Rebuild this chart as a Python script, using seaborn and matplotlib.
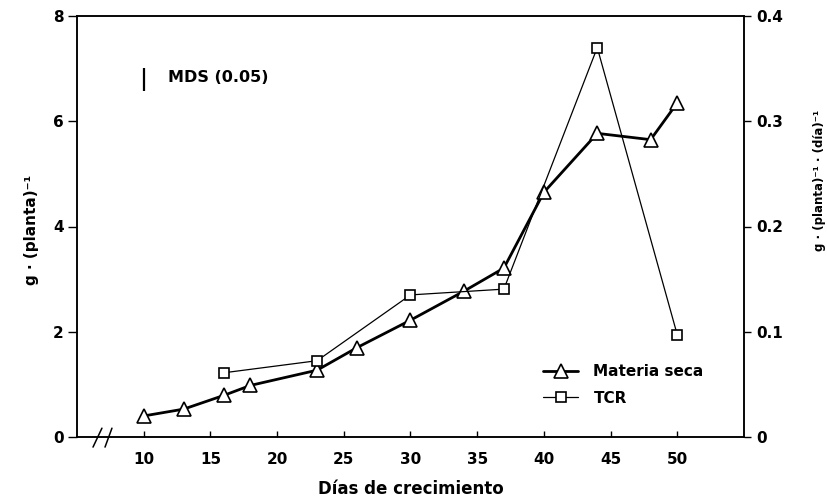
import matplotlib
matplotlib.use("Agg")
import matplotlib.pyplot as plt
import matplotlib.transforms as mtransforms
from matplotlib.lines import Line2D
import seaborn as sns

# ---- data ----
dias_ms = [10, 13, 16, 18, 23, 26, 30, 34, 37, 40, 44, 48, 50]
materia_seca = [0.40, 0.53, 0.79, 0.98, 1.27, 1.70, 2.22, 2.77, 3.21, 4.65, 5.77, 5.65, 6.35]

dias_tcr = [16, 23, 30, 37, 44, 50]
tcr = [0.061, 0.0725, 0.135, 0.1405, 0.370, 0.097]

x_ticks = [10, 15, 20, 25, 30, 35, 40, 45, 50]
y_left_ticks = [0, 2, 4, 6, 8]
y_left_labels = ["0", "2", "4", "6", "8"]
y_right_ticks = [0, 0.1, 0.2, 0.3, 0.4]
y_right_labels = ["0", "0.1", "0.2", "0.3", "0.4"]

mds_x = 10
mds_low, mds_high = 6.58, 7.02
mds_label = "MDS (0.05)"

series_labels = ["Materia seca", "TCR"]
xlabel = "Días de crecimiento"
ylabel_left = "g · (planta)⁻¹"
ylabel_right = "g · (planta)⁻¹ · (día)⁻¹"

# ---- style ----
sns.set_theme(style="ticks")
plt.rcParams["font.family"] = ["DejaVu Sans"]
plt.rcParams["font.weight"] = "bold"
plt.rcParams["axes.labelweight"] = "bold"
plt.rcParams["axes.labelcolor"] = "black"
plt.rcParams["axes.linewidth"] = 1.1
plt.rcParams["axes.edgecolor"] = "black"
plt.rcParams["text.color"] = "black"
plt.rcParams["xtick.color"] = "black"
plt.rcParams["ytick.color"] = "black"
plt.rcParams["xtick.labelcolor"] = "black"
plt.rcParams["ytick.labelcolor"] = "black"

fig = plt.figure(figsize=(8.28, 5.0), dpi=100)
ax = fig.add_axes([77 / 828, 1 - 437 / 500, (744 - 77) / 828, (437 - 16) / 500])
ax2 = ax.twinx()

sns.lineplot(x=dias_ms, y=materia_seca, ax=ax, color="black", linewidth=2.0,
             marker="^", markersize=9.5, markerfacecolor="white",
             markeredgecolor="black", markeredgewidth=1.2, zorder=3)
sns.lineplot(x=dias_tcr, y=tcr, ax=ax2, color="black", linewidth=0.9,
             marker="s", markersize=7.5, markerfacecolor="white",
             markeredgecolor="black", markeredgewidth=1.2, zorder=3)

ax.set_xlim(5, 55)
ax.set_ylim(0, 8)
ax2.set_ylim(0, 0.4)

ax.set_xticks(x_ticks)
ax.set_xticklabels([str(v) for v in x_ticks], fontsize=11, fontweight="bold")
ax.set_yticks(y_left_ticks)
ax.set_yticklabels(y_left_labels, fontsize=11, fontweight="bold")
ax2.set_yticks(y_right_ticks)
ax2.set_yticklabels(y_right_labels, fontsize=11, fontweight="bold")

ax.tick_params(axis="x", direction="in", length=4.5, width=1.0, pad=11, bottom=True, top=False)
ax.tick_params(axis="y", direction="out", length=6.5, width=1.0, pad=3, left=True, right=False)
ax2.tick_params(axis="y", direction="out", length=5, width=1.0, pad=4, right=True)

for a in (ax, ax2):
    for s in a.spines.values():
        s.set_visible(True)
        s.set_color("black")
        s.set_linewidth(1.1)

ax.set_xlabel(xlabel, fontsize=12, fontweight="bold", labelpad=9, color="black")
ax.set_ylabel(ylabel_left, fontsize=11, fontweight="bold", va="center", color="black")
ax.yaxis.set_label_coords(-0.0675, 0.492)
ax2.set_ylabel(ylabel_right, fontsize=8.5, fontweight="bold", va="center",
               rotation=90, color="black")
ax2.yaxis.set_label_coords(1.1125, 0.61)

# axis break marks
trans = mtransforms.blended_transform_factory(ax.transData, ax.transAxes)
for x0, x1 in [(6.2, 6.87), (7.1, 7.62)]:
    ax.plot([x0, x1], [-0.024, 0.021], color="black", linewidth=1.1,
            transform=trans, clip_on=False)

# MDS bar
ax.vlines(mds_x, mds_low, mds_high, color="black", linewidth=1.6)
ax.text(11.8, (mds_low + mds_high) / 2 + 0.03, mds_label, fontsize=11.5,
        fontweight="bold", va="center", ha="left")

# legend
h1 = Line2D([], [], color="black", linewidth=2.0, marker="^", markersize=9.5,
            markerfacecolor="white", markeredgecolor="black", markeredgewidth=1.2)
h2 = Line2D([], [], color="black", linewidth=0.9, marker="s", markersize=7.5,
            markerfacecolor="white", markeredgecolor="black", markeredgewidth=1.2)
leg = ax2.legend([h1, h2], series_labels, loc="center left",
                 bbox_to_anchor=(543 / 828, 1 - 385 / 500),
                 bbox_transform=fig.transFigure, frameon=False,
                 borderpad=0, borderaxespad=0, handlelength=2.3,
                 handletextpad=1.0, labelspacing=0.75,
                 prop={"size": 11, "weight": "bold"})

fig.savefig("out.png", dpi=100)
